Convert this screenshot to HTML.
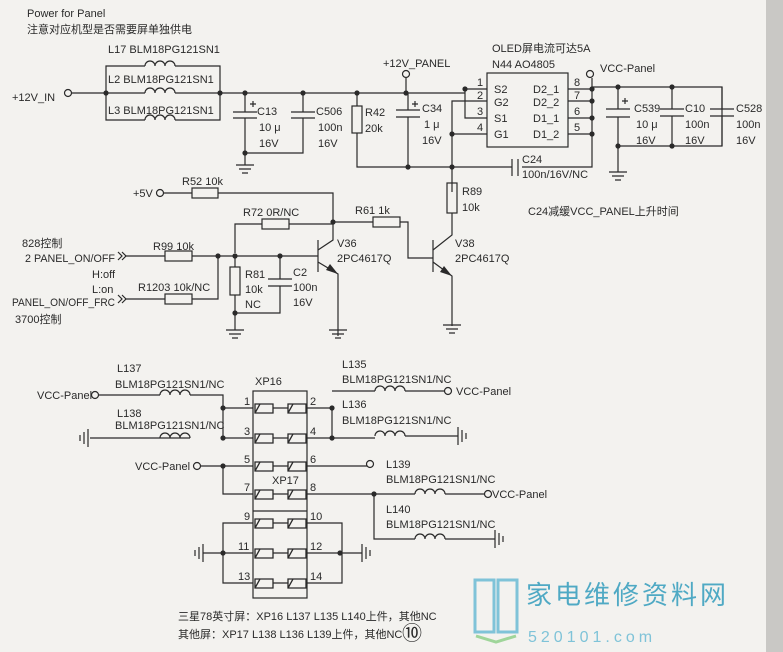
<!DOCTYPE html>
<html><head><meta charset="utf-8"><style>
html,body{margin:0;padding:0;background:#f3f2ef;}
svg{display:block;}
text{font-family:"Liberation Sans","Noto Sans CJK SC",sans-serif;font-size:11px;fill:#2a2a2a;}
</style></head><body>
<svg width="783" height="652" viewBox="0 0 783 652" xmlns="http://www.w3.org/2000/svg">
<rect x="0" y="0" width="783" height="652" fill="#f3f2ef"/>
<rect x="766" y="0" width="17" height="652" fill="#c9c8c5"/>
<g stroke="#2a2a2a" stroke-width="1.2" fill="none">
<!-- top inductor box -->
<path d="M106 93 V66 H145 M175 66 H220 V120 H175 M145 120 H106 V93"/>
<path d="M145 66 a5 5 0 0 1 10 0 a5 5 0 0 1 10 0 a5 5 0 0 1 10 0"/>
<path d="M145 93 a5 5 0 0 1 10 0 a5 5 0 0 1 10 0 a5 5 0 0 1 10 0"/>
<path d="M145 120 a5 5 0 0 1 10 0 a5 5 0 0 1 10 0 a5 5 0 0 1 10 0"/>
<path d="M72 93 H145 M175 93 H465 V89 H487 M465 89 V118 H487"/>
<circle cx="68" cy="93" r="3.5"/>
<!-- C13 -->
<path d="M245 93 V112 M233 112 H257 M233 118 H257 M245 118 V153 H303 V118 M291 118 H315 M291 112 H315 M303 112 V93"/>
<path d="M250 104 H256 M253 101 V107"/>
<path d="M245 153 V165 M236 165 H254 M239 169 H251 M242 173 H248"/>
<!-- R42 -->
<rect x="352" y="106" width="10" height="27"/>
<path d="M357 93 V106 M357 133 V167 H505"/>
<!-- C34 -->
<path d="M408 93 V110 M396 110 H420 M396 117 H420 M408 117 V167"/>
<path d="M412 104 H418 M415 101 V107"/>
<circle cx="406" cy="74" r="3.5"/>
<path d="M406 78 V93"/>
<!-- N44 -->
<rect x="487" y="73" width="81" height="74"/>
<path d="M487 101 H452 V192 M452 134 H487"/>
<path d="M568 89 H592 M568 101 H592 M568 118 H592 M568 134 H592 M592 78 V167 H522"/>
<path d="M512 159 V176 M518 159 V176 M505 167 H512"/>
<circle cx="590" cy="74" r="3.5"/>
<path d="M592 89 V87 H722 V146 H618 V172"/>
<path d="M609 172 H627 M612 176 H624 M615 180 H621"/>
<path d="M618 87 V109 M606 109 H630 M606 117 H630 M618 117 V146"/>
<path d="M622 101 H628 M625 98 V104"/>
<path d="M672 87 V109 M660 109 H684 M660 116 H684 M672 116 V146"/>
<path d="M722 87 V109 M710 109 H734 M710 116 H734 M722 116 V146"/>
<!-- R89 / V38 -->
<rect x="447" y="183" width="10" height="30"/>
<path d="M452 213 V235 L433 250 M433 262 L452 276 V326"/>
<path d="M433 240 V272 M433 258 H408 V222 H400"/>
<path d="M443 325 H461 M446 329 H458 M449 333 H455"/>
<!-- R61 -->
<rect x="373" y="217" width="27" height="10"/>
<path d="M373 222 H333"/>
<!-- +5V, R52 -->
<circle cx="160" cy="193" r="3.5"/>
<path d="M164 193 H192 M218 193 H333 V240 L318 250"/>
<rect x="192" y="188" width="26" height="10"/>
<!-- R72 -->
<rect x="262" y="219" width="27" height="10"/>
<path d="M235 253 V224 H262 M289 224 H333"/>
<!-- V36 -->
<path d="M318 240 V272 M318 262 L338 274 V336 M318 256 H192"/>
<path d="M329 330 H347 M332 334 H344 M335 338 H341"/>
<!-- R99, R1203 -->
<rect x="165" y="251" width="27" height="10"/>
<path d="M125 256 H165"/>
<path d="M118 252 L122 256 L118 260 M122 252 L126 256 L122 260"/>
<rect x="165" y="294" width="27" height="10"/>
<path d="M125 299 H165 M192 299 H218 V256"/>
<path d="M118 295 L122 299 L118 303 M122 295 L126 299 L122 303"/>
<!-- R81, C2 -->
<rect x="230" y="267" width="10" height="28"/>
<path d="M235 256 V267 M235 295 V330 M280 256 V279 M268 279 H292 M268 286 H292 M280 286 V313 H235"/>
<path d="M226 330 H244 M229 334 H241 M232 338 H238"/>
<!-- bottom section -->
<rect x="253" y="391" width="54" height="207"/>
<path d="M253 511 H307"/>
<circle cx="95" cy="395" r="3.5"/>
<path d="M99 395 H160 M190 395 H223 V438 M223 408 H253 M223 438 H253 M190 438 H160 M90 438 H160"/>
<path d="M160 395 a5 5 0 0 1 10 0 a5 5 0 0 1 10 0 a5 5 0 0 1 10 0"/>
<path d="M160 438 a5 5 0 0 1 10 0 a5 5 0 0 1 10 0 a5 5 0 0 1 10 0"/>
<path d="M88 429 V447 M84 432 V444 M80 435 V441"/>
<circle cx="197" cy="466" r="3.5"/>
<path d="M201 466 H253 M223 466 V494 H253"/>
<path d="M307 408 H332 V438 M307 438 H375 M332 391 H375 M405 391 H444 M405 436 H458 M307 466 H367 M307 494 H415 M445 494 H484 M374 494 V539 H415 M445 539 H495"/>
<path d="M375 391 a5 5 0 0 1 10 0 a5 5 0 0 1 10 0 a5 5 0 0 1 10 0"/>
<path d="M375 436 a5 5 0 0 1 10 0 a5 5 0 0 1 10 0 a5 5 0 0 1 10 0"/>
<path d="M415 494 a5 5 0 0 1 10 0 a5 5 0 0 1 10 0 a5 5 0 0 1 10 0"/>
<path d="M415 539 a5 5 0 0 1 10 0 a5 5 0 0 1 10 0 a5 5 0 0 1 10 0"/>
<path d="M458 427 V445 M462 430 V442 M466 433 V439"/>
<path d="M495 530 V548 M499 533 V545 M503 536 V542"/>
<circle cx="448" cy="391" r="3.5"/>
<circle cx="370" cy="464" r="3.5"/>
<circle cx="488" cy="494" r="3.5"/>
<path d="M253 523 H223 V583 H253 M253 553 H203 M307 523 H342 V583 H307 M307 553 H362"/>
<path d="M203 544 V562 M199 547 V559 M195 550 V556"/>
<path d="M362 544 V562 M366 547 V559 M370 550 V556"/>
<g stroke-width="1.3">
<path d="M255 404 h18 v9 h-18 z M255 413 L260 404 H273 M288 404 h18 v9 h-18 z M288 413 L293 404 H306"/>
<path d="M255 434 h18 v9 h-18 z M255 443 L260 434 H273 M288 434 h18 v9 h-18 z M288 443 L293 434 H306"/>
<path d="M255 462 h18 v9 h-18 z M255 471 L260 462 H273 M288 462 h18 v9 h-18 z M288 471 L293 462 H306"/>
<path d="M255 490 h18 v9 h-18 z M255 499 L260 490 H273 M288 490 h18 v9 h-18 z M288 499 L293 490 H306"/>
<path d="M255 519 h18 v9 h-18 z M255 528 L260 519 H273 M288 519 h18 v9 h-18 z M288 528 L293 519 H306"/>
<path d="M255 549 h18 v9 h-18 z M255 558 L260 549 H273 M288 549 h18 v9 h-18 z M288 558 L293 549 H306"/>
<path d="M255 579 h18 v9 h-18 z M255 588 L260 579 H273 M288 579 h18 v9 h-18 z M288 588 L293 579 H306"/>
<path d="M273 408 H288 M273 438 H288 M273 466 H288 M273 494 H288 M273 523 H288 M273 553 H288 M273 583 H288"/>
</g>
</g>
<g fill="#2a2a2a">
<circle cx="106" cy="93" r="2.6"/><circle cx="220" cy="93" r="2.6"/><circle cx="245" cy="93" r="2.6"/><circle cx="303" cy="93" r="2.6"/><circle cx="357" cy="93" r="2.6"/><circle cx="406" cy="93" r="2.6"/><circle cx="465" cy="89" r="2.6"/>
<circle cx="245" cy="153" r="2.6"/><circle cx="408" cy="167" r="2.6"/><circle cx="452" cy="167" r="2.6"/><circle cx="452" cy="134" r="2.6"/>
<circle cx="592" cy="89" r="2.6"/><circle cx="592" cy="101" r="2.6"/><circle cx="592" cy="118" r="2.6"/><circle cx="592" cy="134" r="2.6"/>
<circle cx="618" cy="87" r="2.6"/><circle cx="672" cy="87" r="2.6"/><circle cx="618" cy="146" r="2.6"/><circle cx="672" cy="146" r="2.6"/>
<circle cx="333" cy="222" r="2.6"/><circle cx="218" cy="256" r="2.6"/><circle cx="235" cy="256" r="2.6"/><circle cx="280" cy="256" r="2.6"/><circle cx="235" cy="313" r="2.6"/>
<circle cx="223" cy="408" r="2.6"/><circle cx="223" cy="438" r="2.6"/><circle cx="223" cy="466" r="2.6"/><circle cx="332" cy="408" r="2.6"/><circle cx="332" cy="438" r="2.6"/><circle cx="374" cy="494" r="2.6"/><circle cx="223" cy="553" r="2.6"/><circle cx="340" cy="553" r="2.6"/>
<path d="M338 274 L330 264 L326 270 Z"/><path d="M452 276 L444 266 L440 272 Z"/>
</g>
<g>
<text x="27" y="17">Power for Panel</text>
<text x="27" y="33">注意对应机型是否需要屏单独供电</text>
<text x="108" y="53">L17 BLM18PG121SN1</text>
<text x="108" y="83">L2 BLM18PG121SN1</text>
<text x="108" y="114">L3 BLM18PG121SN1</text>
<text x="12" y="101">+12V_IN</text>
<text x="257" y="115">C13</text><text x="259" y="131">10 μ</text><text x="259" y="147">16V</text>
<text x="316" y="115">C506</text><text x="318" y="131">100n</text><text x="318" y="147">16V</text>
<text x="365" y="116">R42</text><text x="365" y="132">20k</text>
<text x="383" y="67">+12V_PANEL</text>
<text x="422" y="112">C34</text><text x="424" y="128">1 μ</text><text x="422" y="144">16V</text>
<text x="492" y="52">OLED屏电流可达5A</text>
<text x="492" y="68">N44 AO4805</text>
<text x="477" y="86">1</text><text x="477" y="99">2</text><text x="477" y="115">3</text><text x="477" y="131">4</text>
<text x="494" y="93">S2</text><text x="494" y="106">G2</text><text x="494" y="122">S1</text><text x="494" y="138">G1</text>
<text x="533" y="93">D2_1</text><text x="533" y="106">D2_2</text><text x="533" y="122">D1_1</text><text x="533" y="138">D1_2</text>
<text x="574" y="86">8</text><text x="574" y="99">7</text><text x="574" y="115">6</text><text x="574" y="131">5</text>
<text x="600" y="72">VCC-Panel</text>
<text x="634" y="112">C539</text><text x="636" y="128">10 μ</text><text x="636" y="144">16V</text>
<text x="685" y="112">C10</text><text x="685" y="128">100n</text><text x="685" y="144">16V</text>
<text x="736" y="112">C528</text><text x="736" y="128">100n</text><text x="736" y="144">16V</text>
<text x="522" y="163">C24</text><text x="522" y="178">100n/16V/NC</text>
<text x="462" y="195">R89</text><text x="462" y="211">10k</text>
<text x="528" y="215">C24减缓VCC_PANEL上升时间</text>
<text x="133" y="197">+5V</text>
<text x="182" y="185">R52 10k</text>
<text x="243" y="216">R72 0R/NC</text>
<text x="355" y="214">R61 1k</text>
<text x="337" y="247">V36</text><text x="337" y="262">2PC4617Q</text>
<text x="455" y="247">V38</text><text x="455" y="262">2PC4617Q</text>
<text x="22" y="247">828控制</text>
<text x="25" y="262" textLength="90" lengthAdjust="spacingAndGlyphs">2 PANEL_ON/OFF</text>
<text x="153" y="250">R99 10k</text>
<text x="92" y="278">H:off</text>
<text x="92" y="293">L:on</text>
<text x="138" y="291">R1203 10k/NC</text>
<text x="12" y="306" textLength="103" lengthAdjust="spacingAndGlyphs">PANEL_ON/OFF_FRC</text>
<text x="15" y="323">3700控制</text>
<text x="245" y="278">R81</text><text x="245" y="293">10k</text><text x="245" y="308">NC</text>
<text x="293" y="276">C2</text><text x="293" y="291">100n</text><text x="293" y="306">16V</text>
<text x="117" y="372">L137</text><text x="115" y="388">BLM18PG121SN1/NC</text>
<text x="37" y="399">VCC-Panel</text>
<text x="117" y="417">L138</text><text x="115" y="429">BLM18PG121SN1/NC</text>
<text x="255" y="385">XP16</text>
<text x="135" y="470">VCC-Panel</text>
<text x="272" y="484">XP17</text>
<text x="244" y="405">1</text><text x="244" y="435">3</text><text x="244" y="463">5</text><text x="244" y="491">7</text><text x="244" y="520">9</text><text x="238" y="550">11</text><text x="238" y="580">13</text>
<text x="310" y="405">2</text><text x="310" y="435">4</text><text x="310" y="463">6</text><text x="310" y="491">8</text><text x="310" y="520">10</text><text x="310" y="550">12</text><text x="310" y="580">14</text>
<text x="342" y="368">L135</text><text x="342" y="383">BLM18PG121SN1/NC</text>
<text x="456" y="395">VCC-Panel</text>
<text x="342" y="408">L136</text><text x="342" y="424">BLM18PG121SN1/NC</text>
<text x="386" y="468">L139</text><text x="386" y="483">BLM18PG121SN1/NC</text>
<text x="492" y="498">VCC-Panel</text>
<text x="386" y="513">L140</text><text x="386" y="528">BLM18PG121SN1/NC</text>
<text x="178" y="620">三星78英寸屏：XP16 L137 L135 L140上件，其他NC</text>
<text x="178" y="638">其他屏：XP17 L138 L136 L139上件，其他NC</text>
<text x="402" y="640" style="font-size:20px">⑩</text>
</g>
<g fill="none" stroke="#7fc3d8" stroke-width="3">
<path d="M475 580 H494 V632 H475 Z M498 580 H517 V632 H498 Z"/>
</g>
<path d="M476 636 L496 642 L516 636" stroke="#9fd59a" stroke-width="3" fill="none"/>
<text x="526" y="604" style="font-size:26px;fill:#4fa9c4;letter-spacing:3px">家电维修资料网</text>
<text x="528" y="642" style="font-size:16px;fill:#7fc3d8;letter-spacing:4px">520101.com</text>
</svg>
</body></html>
